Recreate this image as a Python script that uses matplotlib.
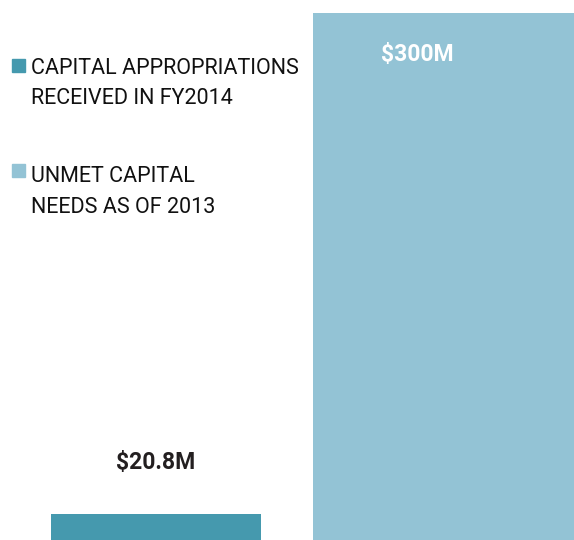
import matplotlib
matplotlib.use("Agg")
import matplotlib.pyplot as plt
from matplotlib.patches import Rectangle

categories = ["CAPITAL APPROPRIATIONS\nRECEIVED IN FY2014", "UNMET CAPITAL\nNEEDS AS OF 2013"]
values = [20.8, 300]
value_labels = ["$20.8M", "$300M"]
colors = ["#4599ae", "#93c3d5"]

plt.rcParams["font.family"] = ["Roboto", "DejaVu Sans"]

W, H = 574, 540
fig = plt.figure(figsize=(W / 100, H / 100), dpi=100)

# axes runs a bit below the picture, the baseline is cropped off
base_px, top_px = 551, 13
ax = fig.add_axes([0, (H - base_px) / H, 1, (base_px - top_px) / H])
ax.set_ylim(0, 300)
unit = 262  # px per category step
left = -0.4 - 51 / unit
ax.set_xlim(left, left + W / unit)
ax.axis("off")

x = [0, 1]
widths = [0.8, 1.2]
ax.bar([xi - 0.4 for xi in x], values, widths, align="edge", color=colors)

# value labels
ax.annotate(value_labels[0], (x[0], values[0]), xytext=(0, 51), textcoords="offset pixels",
            ha="center", va="center", fontsize=16.5, fontweight="bold", color="#231f20")
ax.annotate(value_labels[1], (x[1], values[1]), xytext=(0, -41), textcoords="offset pixels",
            ha="center", va="center", fontsize=16.5, fontweight="bold", color="white")

# legend drawn by hand
for lab, col, ypx, baselines in zip(categories, colors, [59, 164], [(74, 104), (182, 213)]):
    fig.patches.append(Rectangle((12 / W, 1 - (ypx + 13) / H), 13 / W, 13 / H,
                                 transform=fig.transFigure, color=col))
    for line, b in zip(lab.split("\n"), baselines):
        fig.text(31 / W, 1 - b / H, line, ha="left", va="baseline", fontsize=15.5,
                 color="#111111")

fig.savefig("out.png", dpi=100)
